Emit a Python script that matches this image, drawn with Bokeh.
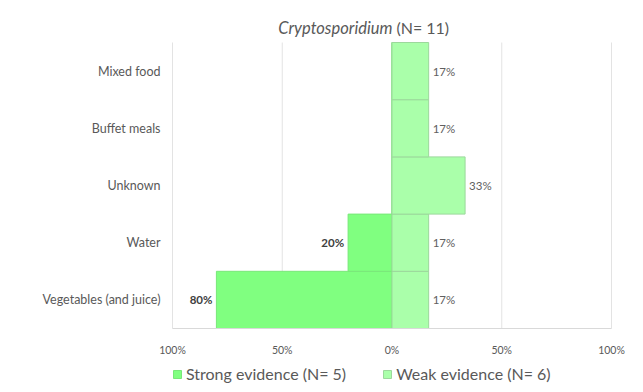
from bokeh.plotting import figure
from bokeh.models import (ColumnDataSource, Range1d, FixedTicker,
                          LabelSet, Label, Legend, LegendItem)
from bokeh.core.properties import value
from bokeh.embed import file_html
from bokeh.resources import INLINE

categories = ["Vegetables (and juice)", "Water", "Unknown", "Buffet meals", "Mixed food"]
strong = [80, 20, 0, 0, 0]
weak = [16.7, 16.7, 33.3, 16.7, 16.7]
ticks = [-100, -50, 0, 50, 100]
tick_labels = ["100%", "50%", "0%", "50%", "100%"]
title_italic = "Cryptosporidium"
title_rest = "(N= 11)"
legend_labels = ["Strong evidence (N= 5)", "Weak evidence (N= 6)"]

FONT = "Lato"
GRAY = "#595959"

# layout (pixels)
W, H = 627, 390
AX_LEFT, AX_RIGHT = 172, 611          # pixel positions of -100% and +100%
LEFT, RIGHT = 150, 2                  # frame borders
BAR_TOP, BAR_BOTTOM = 42, 328
n = len(categories)
ppu = (BAR_BOTTOM - BAR_TOP) / n
ppx = (AX_RIGHT - AX_LEFT) / (ticks[-1] - ticks[0])
x_start = ticks[0] - (AX_LEFT - LEFT) / ppx
x_end = ticks[-1] + ((W - RIGHT) - AX_RIGHT) / ppx
y_top = n - 0.5 + BAR_TOP / ppu
y_bot = -0.5 - (H - BAR_BOTTOM) / ppu
ypos = list(range(n))

p = figure(width=W, height=H, x_range=Range1d(x_start, x_end), y_range=Range1d(y_bot, y_top),
           output_backend="svg", toolbar_location=None, x_axis_location=None,
           min_border_left=LEFT, min_border_right=RIGHT, min_border_top=0, min_border_bottom=0)

# vertical gridlines
p.segment(x0=ticks, y0=[-0.5] * len(ticks), x1=ticks, y1=[n - 0.5] * len(ticks),
          line_color="#e3e3e3", line_width=1)

src = ColumnDataSource(dict(y=ypos, sl=[-v for v in strong], sr=[0] * n, wl=[0] * n, wr=weak))
r_strong = p.hbar(y="y", left="sl", right="sr", height=1.0, source=src,
                  fill_color="#80ff80", line_color="#78e878", line_width=1)
r_weak = p.hbar(y="y", left="wl", right="wr", height=1.0, source=src,
                fill_color="#aaffaa", line_color="#9cd89c", line_width=1)

# x axis line
p.segment(x0=[ticks[0]], y0=[-0.5], x1=[ticks[-1]], y1=[-0.5], line_color="#d9d9d9", line_width=1)

# x tick labels
tsrc = ColumnDataSource(dict(x=ticks, y=[-0.5 - 21 / ppu] * len(ticks), t=tick_labels))
p.add_layout(LabelSet(x="x", y="y", text="t", source=tsrc, text_align="center",
                      text_baseline="middle", text_font=value(FONT), text_font_size="10.5px",
                      text_color=GRAY))

# bar value labels
s_idx = [i for i, v in enumerate(strong) if v > 0]
slab = ColumnDataSource(dict(y=[ypos[i] for i in s_idx],
                             x=[-strong[i] for i in s_idx],
                             t=[f"{strong[i]:.0f}%" for i in s_idx]))
p.add_layout(LabelSet(x="x", y="y", text="t", source=slab, x_offset=-4,
                      text_align="right", text_baseline="middle", text_font=value(FONT),
                      text_font_size="11.5px", text_font_style="bold", text_color="#404040"))
wlab = ColumnDataSource(dict(y=ypos, x=weak, t=[f"{v:.0f}%" for v in weak]))
p.add_layout(LabelSet(x="x", y="y", text="t", source=wlab, x_offset=4,
                      text_align="left", text_baseline="middle", text_font=value(FONT),
                      text_font_size="11.5px", text_color="#606060"))

# title in two styles
title_y = n - 0.5 + 15 / ppu
p.add_layout(Label(x=0.2, y=title_y, text=title_italic, text_align="right", text_baseline="middle",
                   text_font=FONT, text_font_size="16.5px", text_font_style="italic", text_color=GRAY))
p.add_layout(Label(x=2.0, y=title_y, text=title_rest, text_align="left", text_baseline="middle",
                   text_font=FONT, text_font_size="16px", text_color=GRAY))

# y axis (categories)
p.yaxis.ticker = FixedTicker(ticks=ypos)
p.yaxis.major_label_overrides = {i: c for i, c in zip(ypos, categories)}
p.yaxis.axis_line_color = None
p.yaxis.major_tick_line_color = None
p.yaxis.minor_tick_line_color = None
p.yaxis.major_tick_out = 0
p.yaxis.major_tick_in = 0
p.yaxis.major_label_text_font = FONT
p.yaxis.major_label_text_font_size = "12.5px"
p.yaxis.major_label_text_color = GRAY
p.yaxis.major_label_standoff = -10

p.xgrid.grid_line_color = None
p.ygrid.grid_line_color = None
p.outline_line_color = None

legend = Legend(items=[LegendItem(label=legend_labels[0], renderers=[r_strong]),
                       LegendItem(label=legend_labels[1], renderers=[r_weak])],
                orientation="horizontal", location=(AX_LEFT - LEFT, 7),
                label_text_font=FONT, label_text_font_size="16px", label_text_color=GRAY,
                glyph_width=10, glyph_height=10, label_standoff=4, spacing=36,
                border_line_color=None, background_fill_alpha=0, padding=0, margin=0)
p.add_layout(legend)

open("out.html", "w").write(file_html(p, INLINE))
